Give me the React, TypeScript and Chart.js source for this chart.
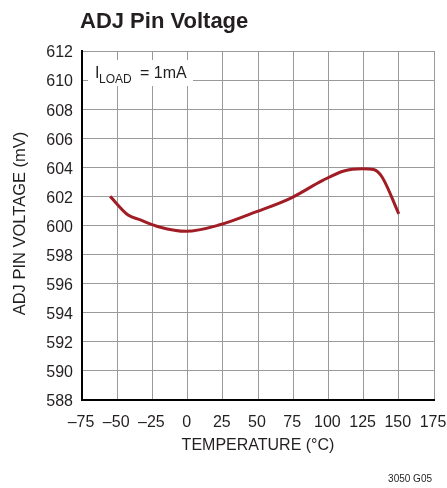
import React, { useEffect, useRef } from "react";
import { Chart, registerables } from "chart.js";

Chart.register(...registerables);

const temperatures = [-55, -42, -34, -20, -1, 23, 49, 73, 96, 111, 124, 132, 138, 150];
const voltages = [602.0, 600.7, 600.4, 599.9, 599.6, 600.05, 600.95, 601.87, 603.1, 603.75, 603.9, 603.85, 603.35, 600.8];
const xTicks = [-75, -50, -25, 0, 25, 50, 75, 100, 125, 150, 175];
const yTicks = [588, 590, 592, 594, 596, 598, 600, 602, 604, 606, 608, 610, 612];

const FONT = '"Liberation Sans", Arial, sans-serif';

const textPlugin = {
  id: "textPlugin",
  afterDraw(chart: any) {
    const ctx = chart.ctx;
    const { left, top, bottom, right } = chart.chartArea;
    ctx.save();
    ctx.fillStyle = "#231f20";
    ctx.font = `bold 22px ${FONT}`;
    ctx.textAlign = "left";
    ctx.textBaseline = "alphabetic";
    ctx.fillText("ADJ Pin Voltage", 80, 28);
    ctx.font = `16.5px ${FONT}`;
    ctx.save();
    ctx.translate(20, (top + bottom) / 2 - 2);
    ctx.rotate(-Math.PI / 2);
    ctx.textAlign = "center";
    ctx.textBaseline = "middle";
    ctx.fillText("ADJ PIN VOLTAGE (mV)", 0, 0);
    ctx.restore();
    ctx.font = `16px ${FONT}`;
    ctx.textAlign = "center";
    ctx.textBaseline = "middle";
    ctx.fillText("TEMPERATURE (°C)", (left + right) / 2, 446);
    ctx.font = `10px ${FONT}`;
    ctx.textAlign = "right";
    ctx.fillText("3050 G05", 432, 479);
    ctx.restore();
  },
  beforeDatasetsDraw(chart: any) {
    const ctx = chart.ctx;
    ctx.save();
    ctx.fillStyle = "#ffffff";
    ctx.fillRect(88, 60, 105, 26);
    ctx.fillStyle = "#231f20";
    ctx.textBaseline = "alphabetic";
    ctx.textAlign = "left";
    ctx.font = `16px ${FONT}`;
    ctx.fillText("I", 95, 78);
    ctx.font = `12px ${FONT}`;
    ctx.fillText("LOAD", 99, 83);
    ctx.font = `16px ${FONT}`;
    ctx.fillText("= 1mA", 140, 78);
    ctx.restore();
  },
};

export default function App() {
  const ref = useRef<HTMLCanvasElement>(null);
  useEffect(() => {
    document.body.style.margin = "0";
    const chart = new Chart(ref.current!, {
      type: "line",
      data: {
        datasets: [
          {
            data: temperatures.map((t, i) => ({ x: t, y: voltages[i] })),
            borderColor: "#a11d25",
            borderWidth: 3,
            pointRadius: 0,
            tension: 0.4,
            cubicInterpolationMode: "monotone",
            fill: false,
          },
        ],
      },
      options: {
        animation: false,
        responsive: false,
        layout: { padding: { top: 51, right: 13, bottom: 0, left: 0 } },
        plugins: { legend: { display: false }, tooltip: { enabled: false } },
        scales: {
          x: {
            type: "linear",
            min: -75,
            max: 175,
            afterBuildTicks: (s: any) => {
              s.ticks = xTicks.map((v) => ({ value: v }));
            },
            afterFit: (s: any) => {
              s.height = 88;
              s.paddingLeft = 0;
              s.paddingRight = 0;
            },
            ticks: {
              color: "#231f20",
              font: { family: FONT, size: 16 },
              padding: 13,
              labelOffset: -1,
              maxRotation: 0,
              autoSkip: false,
              callback: (v: any) => String(v).replace("-", "–"),
            },
            grid: { color: "#9a9a9a", lineWidth: 1, drawTicks: false },
            border: { color: "#000", width: 2 },
          },
          y: {
            type: "linear",
            min: 588,
            max: 612,
            afterBuildTicks: (s: any) => {
              s.ticks = yTicks.map((v) => ({ value: v }));
            },
            afterFit: (s: any) => {
              s.width = 82;
              s.paddingTop = 0;
              s.paddingBottom = 0;
            },
            ticks: {
              color: "#231f20",
              font: { family: FONT, size: 16 },
              padding: 9,
              labelOffset: 2,
              autoSkip: false,
            },
            grid: { color: "#9a9a9a", lineWidth: 1, drawTicks: false },
            border: { color: "#000", width: 2 },
          },
        },
      } as any,
      plugins: [textPlugin],
    });
    return () => chart.destroy();
  }, []);
  return <canvas ref={ref} width={447} height={488} style={{ display: "block" }} />;
}
